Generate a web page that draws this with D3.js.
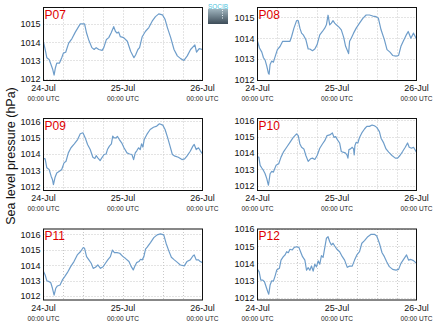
<!DOCTYPE html>
<html>
<head>
<meta charset="utf-8">
<script src="https://cdn.jsdelivr.net/npm/d3@7/dist/d3.min.js"></script>
<style>
  html, body { margin: 0; padding: 0; background: #fff; }
  svg { display: block; font-family: "Liberation Sans", Arial, sans-serif; }
</style>
</head>
<body>
<svg id="chart" width="435" height="327"></svg>
<script>
// Sea level pressure at six stations, hours after 24-Jul 00:00 UTC
const stations = ["P07", "P08", "P09", "P10", "P11", "P12"];

const hoursP07 = [0,0.5,1,1.7,2.2,2.8,3.2,3.6,4,4.8,5.5,6,6.7,7.6,8.6,9.6,10.6,11.1,12.4,13,13.6,14.6,15.3,15.9,16.7,17.7,18.2,19,19.7,20.4,21.2,21.7,22.2,22.7,23.2,24.2,25.3,26.3,27.3,27.8,28.5,29,29.8,30.8,31.8,32.8,33.8,34.8,35.9,36.7,37.4,38.4,39.4,40.4,41.4,42.4,43.4,44.4,45.7,46.2,47,48];
const valuesP07 = [1014.0,1013.6,1013.15,1013.05,1012.8,1012.5,1012.2,1012.6,1012.85,1012.85,1013.15,1013.4,1013.45,1013.95,1014.2,1014.55,1014.85,1015.0,1015.0,1014.5,1014.15,1013.7,1013.6,1013.7,1013.6,1013.55,1013.7,1014.15,1014.25,1014.5,1014.85,1014.6,1014.5,1014.55,1014.3,1014.25,1014.05,1013.5,1013.15,1013.3,1013.6,1013.7,1014.3,1014.6,1014.8,1015.15,1015.4,1015.55,1015.5,1015.25,1014.8,1014.25,1013.6,1013.25,1013.1,1013.0,1013.25,1013.6,1013.85,1013.45,1013.65,1013.6];

const hoursP08 = [0,0.6,1.3,1.8,2.3,2.8,3.3,3.5,3.8,4.3,4.8,5.3,6,6.8,7.6,8.8,9.8,10.3,11,11.8,12.3,12.8,13.3,13.8,14.6,15.3,15.8,16.6,17.3,18,18.8,19.6,20.3,20.8,21.3,21.8,22.3,22.8,23.3,23.8,24.6,25.3,26,26.6,27.1,27.5,27.8,28.3,29,29.8,30.8,31.8,32.8,33.8,34.8,35.8,36.5,37.3,38.3,39.1,40,40.8,41.8,42.6,43.3,44,44.8,45.5,46.3,47.1,48];
const valuesP08 = [1013.85,1013.53,1013.33,1013.06,1012.95,1012.66,1012.31,1012.27,1012.74,1012.9,1012.85,1013.1,1013.45,1013.6,1013.85,1013.85,1013.85,1014.08,1014.48,1014.84,1014.84,1014.48,1014.24,1014.16,1013.93,1013.48,1013.48,1013.4,1013.48,1013.69,1014.16,1014.32,1014.48,1014.64,1015.1,1014.64,1014.72,1014.84,1014.72,1014.64,1014.53,1014.4,1014.05,1013.61,1013.42,1013.26,1013.85,1014.0,1014.24,1014.48,1014.72,1014.95,1015.11,1015.11,1015.06,1015.03,1014.95,1014.4,1013.93,1013.45,1013.33,1013.17,1013.14,1013.17,1013.61,1013.85,1014.12,1014.32,1014.0,1014.24,1013.96];

const hoursP09 = [0,0.5,1,1.7,2.3,2.7,3,3.5,4,4.8,5.5,6.2,6.8,7.5,8.3,9.3,10.3,11.1,11.9,12.6,13.3,14.1,14.9,15.5,15.9,16.4,17.1,17.6,18.3,18.9,19.3,19.9,20.5,20.9,21.3,21.9,22.3,22.9,23.6,24.3,25.2,26,26.7,27.2,27.7,28.2,28.7,29.2,29.6,30,30.4,31.2,32.2,33.2,34.2,35,36,36.7,37.5,38.2,38.9,39.7,40.7,41.8,42.6,43.3,44.3,45.1,45.5,46.1,46.8,47.3,48];
const valuesP09 = [1013.73,1013.7,1013.16,1013.06,1012.65,1012.45,1012.14,1012.59,1012.85,1012.95,1013.06,1013.46,1013.56,1014.07,1014.38,1014.62,1014.88,1015.23,1015.29,1014.98,1014.58,1014.27,1013.8,1013.73,1013.9,1013.77,1013.6,1013.77,1013.97,1014.0,1014.27,1014.48,1014.62,1015.09,1014.98,1014.98,1015.07,1014.88,1014.68,1014.38,1014.07,1014.0,1013.97,1013.66,1014.07,1014.21,1014.38,1014.27,1014.62,1014.42,1014.88,1015.19,1015.49,1015.63,1015.7,1015.84,1015.76,1015.49,1014.98,1014.48,1013.97,1013.87,1013.8,1013.66,1013.7,1013.87,1014.17,1014.48,1014.58,1014.27,1014.38,1014.21,1014.0];

const hoursP10 = [0,0.4,0.8,1.3,1.8,2.3,2.8,3.3,3.8,4.3,4.8,5.6,6.4,7.1,7.8,8.8,9.8,10.8,11.8,12.3,12.8,13.3,14,14.6,15.3,16,16.6,17.3,18,18.8,19.6,20.3,21,21.8,22.6,23.1,23.6,24.3,24.8,25.3,25.8,26.5,27,27.3,27.6,28.1,28.6,29,29.2,29.4,29.8,30.3,30.8,31.6,32.3,33,33.8,34.6,35.3,36,36.8,37.3,38,38.8,39.6,40.6,41.6,42.3,43,43.8,44.6,45.3,45.8,46.5,47.1,48];
const valuesP10 = [1013.75,1013.75,1013.25,1013.09,1012.94,1012.74,1012.44,1012.04,1012.74,1012.88,1012.84,1013.25,1013.35,1013.75,1014.05,1014.35,1014.65,1014.95,1015.16,1015.06,1014.55,1014.35,1014.25,1013.85,1013.49,1013.65,1013.69,1013.61,1013.85,1014.29,1014.55,1014.75,1015.06,1015.1,1015.22,1014.95,1015.0,1014.75,1014.61,1014.09,1014.05,1014.01,1013.89,1013.69,1014.21,1014.25,1014.35,1014.25,1013.89,1014.45,1014.65,1014.61,1014.95,1015.26,1015.46,1015.62,1015.62,1015.7,1015.66,1015.56,1015.3,1014.9,1014.65,1014.25,1014.05,1013.85,1013.69,1013.69,1013.85,1014.09,1014.35,1014.61,1014.35,1014.29,1014.35,1014.05];

const hoursP11 = [0,0.5,1,1.7,2.2,2.7,3.2,3.7,4.2,5,5.7,6.4,7.2,8.2,9.2,10.2,11.2,12,12.4,13,13.7,14.4,15,15.7,16.4,17.2,18,18.7,19.4,20.2,20.8,21.4,22.2,23,24,24.7,25.8,26.5,27.1,27.5,28.1,28.8,29.3,29.8,30.3,30.8,31.3,32.3,33.3,34.3,35.3,36.3,37,37.8,38.6,39.5,40.5,41.3,42.5,43.3,44.3,45.1,45.5,46.1,46.8,47.3,48];
const valuesP11 = [1013.58,1013.36,1012.99,1012.93,1012.86,1012.5,1012.06,1012.5,1012.65,1012.71,1013.04,1013.25,1013.51,1013.9,1014.23,1014.66,1014.88,1015.14,1015.09,1014.55,1014.34,1014.12,1013.79,1013.86,1014.01,1013.79,1013.9,1014.12,1014.34,1014.55,1014.98,1014.81,1014.81,1014.77,1014.55,1014.44,1014.23,1013.9,1013.69,1013.9,1014.16,1014.23,1014.38,1014.34,1014.55,1015.03,1015.16,1015.46,1015.78,1015.96,1016.02,1015.96,1015.42,1014.94,1014.51,1014.34,1014.16,1014.01,1013.95,1014.23,1014.34,1014.59,1014.66,1014.34,1014.34,1014.23,1014.16];

const hoursP12 = [0,0.5,1,1.6,2.1,2.6,3.1,3.4,3.8,4.3,4.8,5.3,5.8,6.6,7.1,7.8,8.3,8.8,9.3,9.8,10.5,11.1,11.8,12.5,13,13.6,14.3,14.8,15.3,15.8,16.3,16.8,17.3,17.8,18.3,18.8,19.3,19.8,20.3,20.8,21.3,21.8,22.3,22.8,23.3,24,24.8,25.6,26.3,27.1,27.8,28.6,29.3,30,30.8,31.5,32.3,33.3,34.3,35.3,36,36.8,37.6,38.3,39,39.8,40.8,41.8,42.6,43.3,44.3,45,45.6,46.3,47.1,48];
const valuesP12 = [1013.65,1013.51,1013.03,1013.03,1012.93,1012.64,1012.35,1012.21,1012.74,1012.99,1012.97,1013.26,1013.61,1013.71,1014.19,1014.39,1014.49,1014.68,1014.62,1014.82,1014.78,1014.93,1014.97,1014.93,1014.68,1014.39,1014.19,1013.6,1013.75,1013.6,1013.85,1013.55,1013.95,1013.8,1014.15,1013.95,1014.45,1014.35,1014.9,1015.46,1015.55,1015.26,1015.07,1015.17,1015.01,1014.82,1014.68,1014.39,1014.19,1013.77,1013.84,1013.84,1014.19,1014.49,1014.68,1015.17,1015.32,1015.55,1015.69,1015.69,1015.59,1015.17,1014.62,1014.39,1014.1,1013.81,1013.65,1013.61,1013.65,1014.0,1014.29,1014.49,1014.19,1014.23,1014.16,1014.0];

// Vertical range shown in each panel (hPa)
const domainP07 = [1011.9, 1015.9];
const domainP08 = [1011.97, 1015.47];
const domainP09 = [1011.78, 1016.16];
const domainP10 = [1011.72, 1016.1];
const domainP11 = [1011.74, 1016.34];
const domainP12 = [1011.87, 1016.0];

const tickValuesP07 = [1012, 1013, 1014, 1015];
const tickValuesP08 = [1012, 1013, 1014, 1015];
const tickValuesOthers = [1012, 1013, 1014, 1015, 1016];

const startTime = Date.UTC(2013, 6, 24);
const endTime = Date.UTC(2013, 6, 26);

const series = {
  P07: { hours: hoursP07, values: valuesP07, domain: domainP07, ticks: tickValuesP07 },
  P08: { hours: hoursP08, values: valuesP08, domain: domainP08, ticks: tickValuesP08 },
  P09: { hours: hoursP09, values: valuesP09, domain: domainP09, ticks: tickValuesOthers },
  P10: { hours: hoursP10, values: valuesP10, domain: domainP10, ticks: tickValuesOthers },
  P11: { hours: hoursP11, values: valuesP11, domain: domainP11, ticks: tickValuesOthers },
  P12: { hours: hoursP12, values: valuesP12, domain: domainP12, ticks: tickValuesOthers }
};

// Panel frames: two columns, three rows
const colLeft = [43.5, 257.5];
const panelW = 159;
const rowFrames = [
  { top: 7.5, bottom: 80.5 },
  { top: 118.5, bottom: 190.5 },
  { top: 229, bottom: 300 }
];

const svg = d3.select("#chart");
const lineColor = "#6e9dca";
const gridColor = "#c8c8c8";

stations.forEach((name, i) => {
  const s = series[name];
  const col = i % 2, row = Math.floor(i / 2);
  const x0 = colLeft[col], x1 = x0 + panelW;
  const y0 = rowFrames[row].top, y1 = rowFrames[row].bottom;

  const x = d3.scaleUtc().domain([new Date(startTime), new Date(endTime)]).range([x0, x1]);
  const y = d3.scaleLinear().domain(s.domain).range([y1, y0]);

  const g = svg.append("g");

  // dotted grid every 6 hours and every hPa
  const gridTimes = d3.utcHour.every(6).range(new Date(startTime + 1), new Date(endTime));
  g.selectAll("line.vgrid").data(gridTimes).join("line")
    .attr("x1", d => Math.round(x(d)) + 0.5).attr("x2", d => Math.round(x(d)) + 0.5)
    .attr("y1", y0).attr("y2", y1)
    .attr("stroke", gridColor).attr("stroke-width", 1).attr("stroke-dasharray", "1,2");
  g.selectAll("line.hgrid").data(s.ticks).join("line")
    .attr("x1", x0).attr("x2", x1)
    .attr("y1", d => Math.round(y(d)) + 0.5).attr("y2", d => Math.round(y(d)) + 0.5)
    .attr("stroke", gridColor).attr("stroke-width", 1).attr("stroke-dasharray", "1,2");

  // pressure trace
  const pts = s.hours.map((h, k) => [new Date(startTime + h * 3600e3), s.values[k]]);
  g.append("path")
    .datum(pts)
    .attr("fill", "none")
    .attr("stroke", lineColor)
    .attr("stroke-width", 1.2)
    .attr("stroke-linejoin", "round")
    .attr("d", d3.line().x(d => x(d[0])).y(d => y(d[1])));

  // frame
  g.append("rect")
    .attr("x", x0).attr("y", y0).attr("width", x1 - x0).attr("height", y1 - y0)
    .attr("fill", "none").attr("stroke", "#111").attr("stroke-width", 1);

  // y axis labels
  const yAxis = d3.axisLeft(y).tickValues(s.ticks).tickSize(0).tickPadding(3).tickFormat(d3.format("d"));
  const ya = g.append("g").attr("transform", `translate(${x0},0)`).call(yAxis);
  ya.select(".domain").remove();
  ya.selectAll("text").attr("font-size", 9).attr("fill", "#111").attr("font-family", "Liberation Sans, Arial, sans-serif");

  // x axis labels: date and time lines
  const days = d3.utcDay.range(new Date(startTime), new Date(endTime + 1));
  const xa = g.append("g");
  xa.selectAll("text.day").data(days).join("text")
    .attr("x", d => x(d)).attr("y", y1 + 10.5)
    .attr("text-anchor", "middle").attr("font-size", 9).attr("fill", "#111")
    .text(d3.utcFormat("%d-%b"));
  xa.selectAll("text.hour").data(days).join("text")
    .attr("x", d => x(d)).attr("y", y1 + 20.5)
    .attr("text-anchor", "middle").attr("font-size", 6.6).attr("fill", "#222")
    .text(d => d3.utcFormat("%H:%M")(d) + " UTC");

  // station name
  g.append("text")
    .attr("x", x0 + 1).attr("y", y0 + 11)
    .attr("font-size", 12).attr("fill", "#e00000")
    .text(name);
});

// shared y label
svg.append("text")
  .attr("transform", "translate(14.5,156) rotate(-90)")
  .attr("text-anchor", "middle")
  .attr("font-size", 12.5)
  .attr("fill", "#111")
  .text("Sea level pressure (hPa)");

// SOCIB badge
const defs = svg.append("defs");
const grad = defs.append("linearGradient").attr("id", "badge").attr("x1", 0).attr("y1", 0).attr("x2", 0).attr("y2", 1);
grad.append("stop").attr("offset", "0%").attr("stop-color", "#9fb4be");
grad.append("stop").attr("offset", "100%").attr("stop-color", "#3d4c58");
svg.append("rect").attr("x", 208).attr("y", 9).attr("width", 20).attr("height", 15).attr("fill", "url(#badge)");
svg.append("line").attr("x1", 222.5).attr("x2", 222.5).attr("y1", 10).attr("y2", 20)
  .attr("stroke", "#e8f0f4").attr("stroke-width", 1).attr("stroke-dasharray", "1,1.5");
svg.append("text").attr("x", 218).attr("y", 8.5).attr("text-anchor", "middle")
  .attr("font-size", 7).attr("fill", "#4cc3dc").attr("textLength", 20).attr("lengthAdjust", "spacingAndGlyphs")
  .text("SOCIB");
</script>
</body>
</html>
